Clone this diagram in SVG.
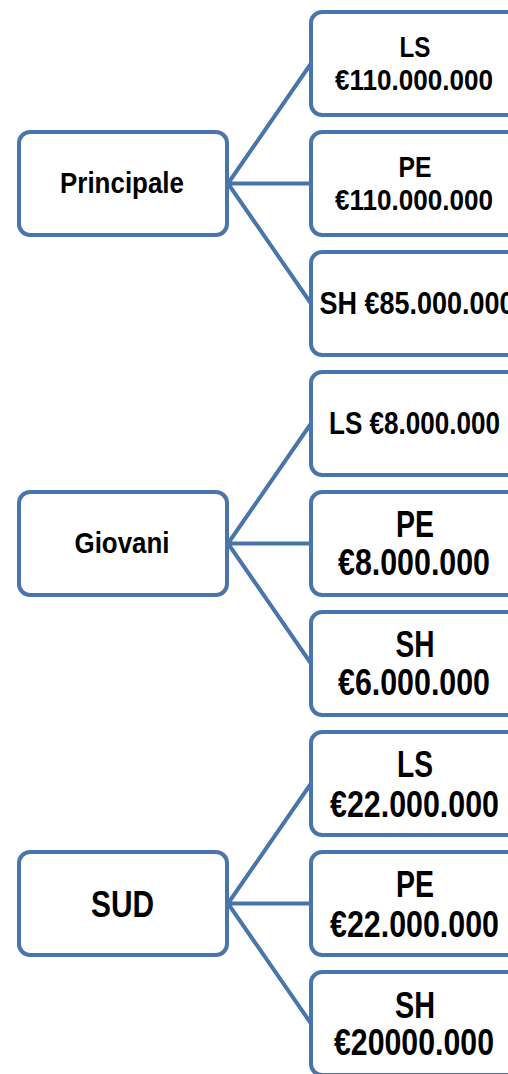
<svg xmlns="http://www.w3.org/2000/svg" width="508" height="1074" viewBox="0 0 508 1074">
<style>
.box{fill:#fff;stroke:#4A75AA;stroke-width:4}
.con{stroke:#4A75AA;stroke-width:4;fill:none}
text{font-family:"Liberation Sans Narrow","Liberation Sans",Arial,sans-serif;font-weight:bold;fill:#000;text-anchor:middle}
</style>
<rect width="508" height="1074" fill="#fff"/>
<g id="connectors">
<path class="con" d="M228,183.5 L311,63.5 M228,183.5 L311,183.5 M228,183.5 L311,303.5"/>
<path class="con" d="M228,543.5 L311,423.5 M228,543.5 L311,543.5 M228,543.5 L311,663.5"/>
<path class="con" d="M228,903.5 L311,783.5 M228,903.5 L311,903.5 M228,903.5 L311,1023.5"/>
</g>
<g id="principale"><rect class="box" x="19" y="132" width="208" height="103" rx="11"/><text x="122" y="193" font-size="30" textLength="124" lengthAdjust="spacingAndGlyphs">Principale</text></g>
<g id="p-ls"><rect class="box" x="311" y="12" width="208" height="103" rx="11"/><text x="415" y="57" font-size="30" textLength="31" lengthAdjust="spacingAndGlyphs">LS</text><text x="414" y="90" font-size="30" textLength="158" lengthAdjust="spacingAndGlyphs">€110.000.000</text></g>
<g id="p-pe"><rect class="box" x="311" y="132" width="208" height="103" rx="11"/><text x="415" y="177" font-size="30" textLength="33" lengthAdjust="spacingAndGlyphs">PE</text><text x="414" y="210" font-size="30" textLength="158" lengthAdjust="spacingAndGlyphs">€110.000.000</text></g>
<g id="p-sh"><rect class="box" x="311" y="252" width="208" height="103" rx="11"/><text x="417" y="314" font-size="32" textLength="195" lengthAdjust="spacingAndGlyphs">SH €85.000.000</text></g>
<g id="giovani"><rect class="box" x="19" y="492" width="208" height="103" rx="11"/><text x="122" y="553" font-size="30" textLength="95" lengthAdjust="spacingAndGlyphs">Giovani</text></g>
<g id="g-ls"><rect class="box" x="311" y="372" width="208" height="103" rx="11"/><text x="414.5" y="434" font-size="31" textLength="171" lengthAdjust="spacingAndGlyphs">LS €8.000.000</text></g>
<g id="g-pe"><rect class="box" x="311" y="492" width="208" height="103" rx="11"/><text x="415" y="537" font-size="36" textLength="38" lengthAdjust="spacingAndGlyphs">PE</text><text x="414" y="575" font-size="36" textLength="152" lengthAdjust="spacingAndGlyphs">€8.000.000</text></g>
<g id="g-sh"><rect class="box" x="311" y="612" width="208" height="103" rx="11"/><text x="415" y="657" font-size="36" textLength="39" lengthAdjust="spacingAndGlyphs">SH</text><text x="414" y="695" font-size="36" textLength="152" lengthAdjust="spacingAndGlyphs">€6.000.000</text></g>
<g id="sud"><rect class="box" x="19" y="852" width="208" height="103" rx="11"/><text x="122.5" y="917" font-size="36" textLength="63" lengthAdjust="spacingAndGlyphs">SUD</text></g>
<g id="s-ls"><rect class="box" x="311" y="732" width="208" height="103" rx="11"/><text x="415" y="777" font-size="37" textLength="36" lengthAdjust="spacingAndGlyphs">LS</text><text x="414.5" y="817" font-size="37" textLength="169" lengthAdjust="spacingAndGlyphs">€22.000.000</text></g>
<g id="s-pe"><rect class="box" x="311" y="852" width="208" height="103" rx="11"/><text x="415" y="897" font-size="37" textLength="38" lengthAdjust="spacingAndGlyphs">PE</text><text x="414.5" y="937" font-size="37" textLength="169" lengthAdjust="spacingAndGlyphs">€22.000.000</text></g>
<g id="s-sh"><rect class="box" x="311" y="972" width="208" height="103" rx="11"/><text x="415" y="1018" font-size="37" textLength="40" lengthAdjust="spacingAndGlyphs">SH</text><text x="414" y="1055" font-size="37" textLength="160" lengthAdjust="spacingAndGlyphs">€20000.000</text></g>
</svg>
